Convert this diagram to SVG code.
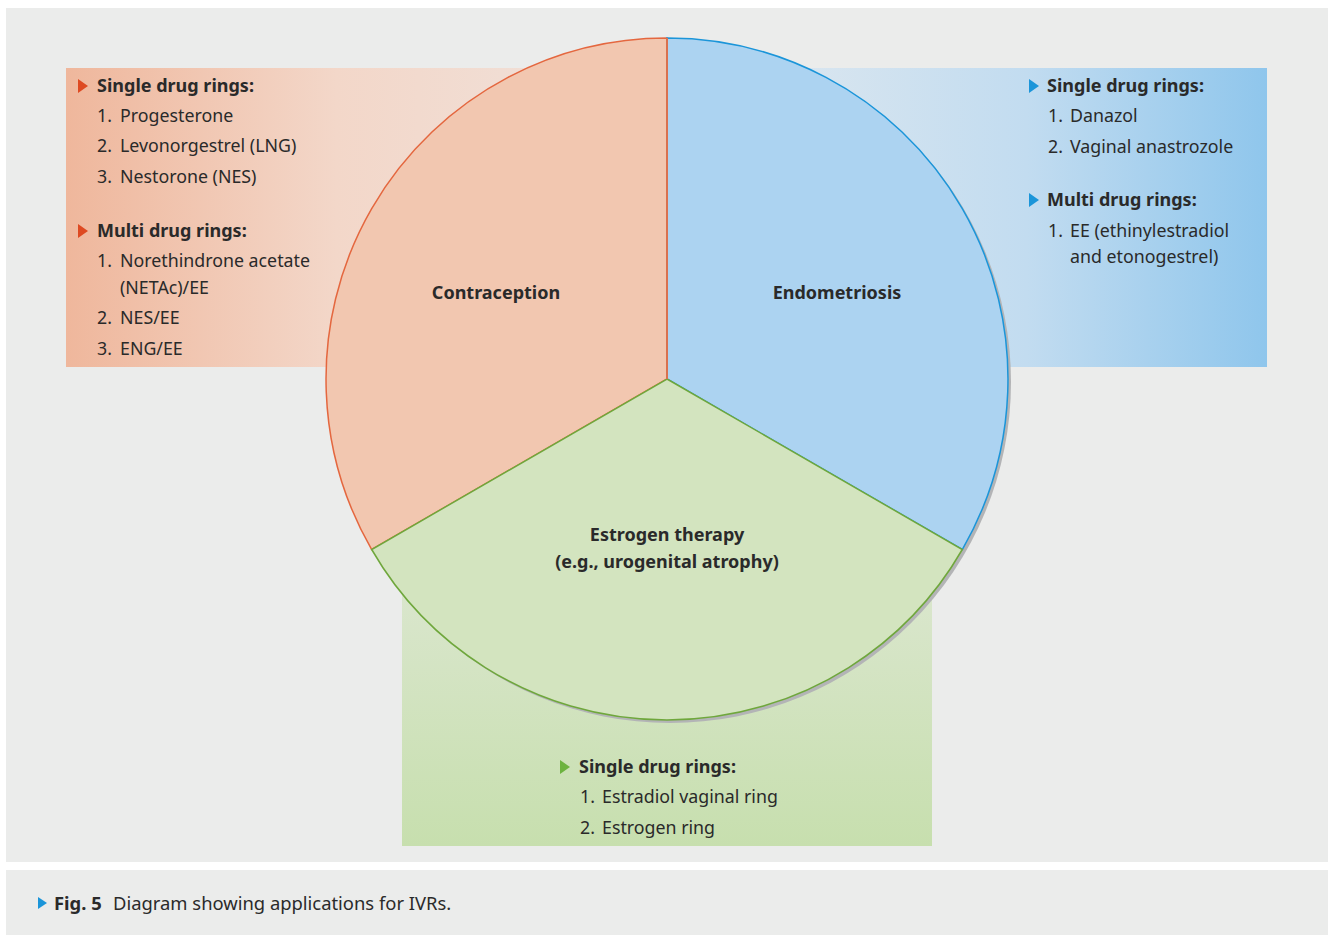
<svg xmlns="http://www.w3.org/2000/svg" width="1330" height="935" viewBox="0 0 1330 935">
<defs>
<linearGradient id="gL" x1="0" y1="0" x2="1" y2="0">
<stop offset="0" stop-color="#efb79c"/>
<stop offset="0.45" stop-color="#f3d7c9"/>
<stop offset="1" stop-color="#efe3dd"/>
</linearGradient>
<linearGradient id="gR" x1="0" y1="0" x2="1" y2="0">
<stop offset="0" stop-color="#e6ebef"/>
<stop offset="0.6" stop-color="#c2dcf0"/>
<stop offset="1" stop-color="#8fc6ec"/>
</linearGradient>
<linearGradient id="gB" x1="0" y1="0" x2="0" y2="1">
<stop offset="0" stop-color="#e9ece6"/>
<stop offset="1" stop-color="#c7dfae"/>
</linearGradient>
<style>
text{font-family:"Noto Sans","Open Sans","DejaVu Sans",sans-serif;fill:#2a2a2a;font-size:17.8px}
.b{font-weight:bold;font-size:18px}
.c{text-anchor:middle;font-weight:bold;font-size:18px}
.cap{font-size:18.4px}
</style>
</defs>
<rect x="0" y="0" width="1330" height="935" fill="#ffffff"/>
<rect x="6" y="8" width="1322" height="854" fill="#ebeceb"/>
<rect x="6" y="870" width="1322" height="65" fill="#ebeceb"/>
<g id="box-left"><rect x="66" y="68" width="601" height="299" fill="url(#gL)"/></g>
<g id="box-right"><rect x="667" y="68" width="600" height="299" fill="url(#gR)"/></g>
<g id="box-bottom"><rect x="402" y="379" width="530" height="467" fill="url(#gB)"/></g>
<g id="pie">
<circle cx="670" cy="382" r="341" fill="#b3b4b6"/>
<g id="contraception">
<path d="M667,379 L667,38 A341,341 0 0 0 371.7,549.5 Z" fill="#f2c7b0" stroke="#e4673f" stroke-width="1.5"/>
</g>
<g id="endometriosis">
<path d="M667,379 L667,38 A341,341 0 0 1 962.3,549.5 Z" fill="#acd3f1" stroke="#1b95d9" stroke-width="1.5"/>
</g>
<g id="estrogen">
<path d="M667,379 L962.3,549.5 A341,341 0 0 1 371.7,549.5 Z" fill="#d3e4bf" stroke="#6fa73c" stroke-width="1.5"/>
</g>
<line x1="667" y1="38" x2="667" y2="379" stroke="#d9714f" stroke-width="2"/>
<text class="c" x="496" y="299">Contraception</text>
<text class="c" x="837" y="299">Endometriosis</text>
<text class="c" x="667" y="541">Estrogen therapy</text>
<text class="c" x="667" y="568">(e.g., urogenital atrophy)</text>
</g>
<g id="text-left">
<polygon points="78,79 78,93 88,86" fill="#de4a22"/>
<text class="b" x="97" y="92">Single drug rings:</text>
<text x="97" y="122">1.</text><text x="120" y="122">Progesterone</text>
<text x="97" y="152">2.</text><text x="120" y="152">Levonorgestrel (LNG)</text>
<text x="97" y="183">3.</text><text x="120" y="183">Nestorone (NES)</text>
<polygon points="78,224 78,238 88,231" fill="#de4a22"/>
<text class="b" x="97" y="237">Multi drug rings:</text>
<text x="97" y="267">1.</text><text x="120" y="267">Norethindrone acetate</text>
<text x="120" y="294">(NETAc)/EE</text>
<text x="97" y="324">2.</text><text x="120" y="324">NES/EE</text>
<text x="97" y="355">3.</text><text x="120" y="355">ENG/EE</text>
</g>
<g id="text-right">
<polygon points="1029,79 1029,93 1039,86" fill="#1b95d9"/>
<text class="b" x="1047" y="92">Single drug rings:</text>
<text x="1048" y="122">1.</text><text x="1070" y="122">Danazol</text>
<text x="1048" y="153">2.</text><text x="1070" y="153">Vaginal anastrozole</text>
<polygon points="1029,193 1029,207 1039,200" fill="#1b95d9"/>
<text class="b" x="1047" y="206">Multi drug rings:</text>
<text x="1048" y="237">1.</text><text x="1070" y="237">EE (ethinylestradiol</text>
<text x="1070" y="263">and etonogestrel)</text>
</g>
<g id="text-bottom">
<polygon points="560,760 560,774 570,767" fill="#6db33f"/>
<text class="b" x="579" y="773">Single drug rings:</text>
<text x="580" y="803">1.</text><text x="602" y="803">Estradiol vaginal ring</text>
<text x="580" y="834">2.</text><text x="602" y="834">Estrogen ring</text>
</g>
<g id="caption">
<polygon points="38,897 38,909 47,903" fill="#1b95d9"/>
<text class="b cap" x="54" y="910">Fig. 5</text>
<text class="cap" x="113" y="910">Diagram showing applications for IVRs.</text>
</g>
</svg>
